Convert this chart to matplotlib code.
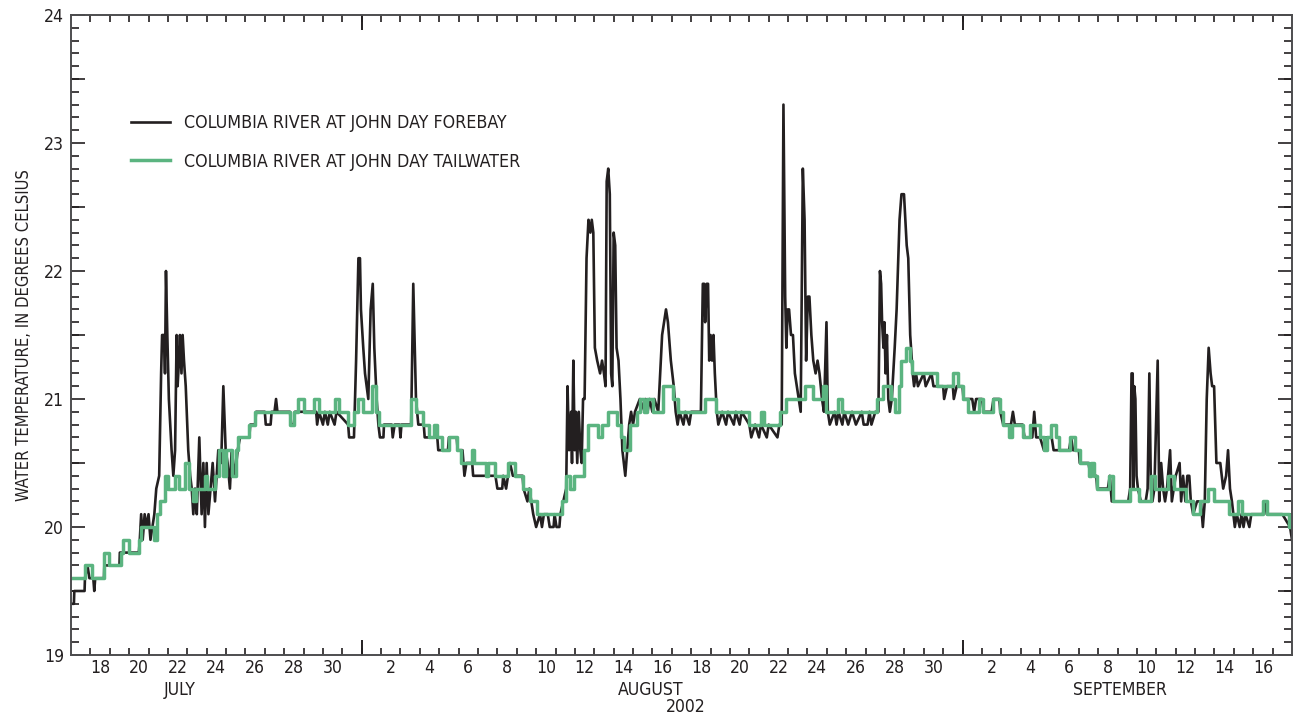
import matplotlib
matplotlib.use('Agg')
import matplotlib.pyplot as plt
import numpy as np

plt.rcParams['font.family'] = ['DejaVu Sans']
plt.rcParams['font.stretch'] = 'condensed'

# days since 2002-07-17 00:00, water temperature in deg C
fore_t = [0.0, 0.15, 0.17, 0.7, 0.72, 0.85, 0.95, 1.15, 1.2, 1.25, 1.7, 1.72, 2.5, 2.52, 3.5, 3.55,
          3.62, 3.7, 3.8, 3.9, 4.0, 4.1, 4.2, 4.3, 4.4,
          4.55, 4.65, 4.7, 4.8, 4.85, 4.9, 4.97, 5.05, 5.19, 5.28, 5.37, 5.45, 5.5, 5.57, 5.62, 5.7,
          5.76, 5.83, 5.92, 6.05, 6.15, 6.23, 6.31, 6.4, 6.49, 6.62, 6.74, 6.83, 6.91, 7.0, 7.09, 7.2,
          7.31, 7.43, 7.6, 7.75, 7.86, 7.98, 8.08, 8.2, 8.29, 8.46, 8.6, 8.72, 9.2, 9.25, 9.5, 9.55,
          10.0, 10.05, 10.3, 10.35, 10.5, 10.58, 10.65, 11.3, 11.35, 11.5, 11.55, 12.65, 12.7, 12.8,
          13.0, 13.1, 13.25, 13.35, 13.6, 13.7, 14.3, 14.35, 14.6,
          14.71, 14.83, 14.91, 14.96, 15.08, 15.17, 15.34, 15.46, 15.57, 15.65, 15.77, 15.86, 15.94,
          16.12, 16.15, 16.55, 16.6, 16.7, 16.95, 17.0, 17.05, 17.55, 17.66, 17.8, 17.92, 18.2, 18.25,
          18.9, 18.95, 19.45, 19.5, 19.9, 19.95, 20.2, 20.3, 20.4, 20.7, 20.75, 21.9, 22.0, 22.25,
          22.3, 22.45, 22.55, 22.65, 22.8, 23.3, 23.35, 23.55, 23.65, 23.75, 23.85, 24.0, 24.2, 24.3,
          24.4, 24.6, 24.7, 24.9, 24.95, 25.05, 25.2, 25.25, 25.4, 25.55,
          25.62, 25.7, 25.8, 25.85, 25.92, 25.99, 26.05, 26.12, 26.2, 26.28, 26.35, 26.42, 26.5,
          26.6, 26.7, 26.8, 26.87, 26.95, 27.03, 27.15, 27.3, 27.4, 27.5, 27.58, 27.64, 27.72, 27.8,
          27.87, 27.93, 28.0, 28.08, 28.15, 28.25, 28.35, 28.45, 28.6, 28.7, 28.8, 28.9,
          29.0, 29.1, 29.35, 29.6, 29.65, 29.75, 29.85, 30.0, 30.1, 30.3, 30.4, 30.5, 30.6, 30.7,
          30.8, 30.95, 31.1, 31.2, 31.3, 31.4, 31.6, 31.7, 31.9, 32.0, 32.5,
          32.6, 32.67, 32.72, 32.8, 32.87, 32.93, 33.0, 33.08, 33.15, 33.22, 33.32, 33.4, 33.6, 33.8,
          33.9, 34.2, 34.3, 34.5, 34.6, 35.0, 35.1, 35.3, 35.5, 35.6, 35.9, 36.0, 36.45, 36.55, 36.67,
          36.76, 36.85, 36.91, 36.98, 37.05, 37.15, 37.25, 37.35, 37.45, 37.55, 37.65, 37.76, 37.85,
          37.93, 38.02, 38.1, 38.2, 38.3, 38.42, 38.52, 38.62, 38.75, 38.85, 38.98, 39.05, 39.15,
          39.4, 39.5, 39.6, 39.8, 39.9, 40.1, 40.3, 40.5, 40.8, 40.9, 41.1, 41.2, 41.3, 41.5,
          41.66, 41.74, 41.8, 41.85, 41.92, 41.97, 42.03, 42.1, 42.17, 42.25, 42.35, 42.5, 42.6,
          42.75, 42.85, 42.98, 43.05, 43.12, 43.2, 43.3, 43.43, 43.5, 43.6,
          43.7, 44.0, 44.1, 44.4, 44.5, 45.0, 45.05, 45.2, 45.5, 45.55, 45.7, 46.0, 46.05, 46.5,
          46.6, 46.7, 47.0, 47.1, 47.5, 47.6, 47.9, 47.95, 48.1, 48.5, 48.6, 48.7, 49.1, 49.2, 49.6,
          49.7, 49.8, 50.0, 50.2, 50.3, 50.6, 50.7, 51.0, 51.5, 51.6, 51.7, 52.0, 52.05, 52.5, 52.6,
          52.9, 52.95, 53.5, 53.6, 53.7, 54.55,
          54.65, 54.72, 54.78, 54.82, 54.86, 54.92, 54.98, 55.05, 55.2, 55.45, 55.55, 55.64, 55.72,
          55.8, 55.9, 56.07, 56.15, 56.25, 56.35, 56.45, 56.55, 56.71, 56.8, 56.9, 57.0, 57.2, 57.28,
          57.38, 57.5, 57.6, 57.7, 57.78, 57.9, 58.1, 58.3, 58.4, 58.5, 58.6, 58.7, 58.8, 58.88,
          58.98, 59.1, 59.3, 59.45, 59.6, 59.7, 59.8, 59.9, 60.05, 60.15, 60.3, 60.4, 60.5, 60.6,
          60.8, 60.9, 61.5, 61.6, 61.7, 62.5, 62.9, 63.0]
fore_v = [19.4, 19.4, 19.5, 19.5, 19.6, 19.7, 19.6, 19.6, 19.5, 19.6, 19.6, 19.7, 19.7, 19.8, 19.8, 19.9,
          20.1, 19.9, 20.1, 20.0, 20.1, 19.9, 20.0, 20.1, 20.3,
          20.4, 21.2, 21.5, 21.5, 21.2, 22.0, 21.5, 21.0, 20.6, 20.4, 20.6, 21.5, 21.1, 21.3, 21.5, 21.2,
          21.5, 21.3, 21.1, 20.6, 20.4, 20.3, 20.1, 20.3, 20.1, 20.7, 20.1, 20.5, 20.0, 20.5, 20.1, 20.3,
          20.5, 20.2, 20.6, 20.5, 21.1, 20.6, 20.5, 20.3, 20.6, 20.4, 20.6, 20.7, 20.7, 20.8, 20.8, 20.9,
          20.9, 20.8, 20.8, 20.9, 20.9, 21.0, 20.9, 20.9, 20.8, 20.8, 20.9, 20.9, 20.8, 20.9,
          20.8, 20.9, 20.8, 20.9, 20.8, 20.9, 20.8, 20.7, 20.7,
          21.3, 22.1, 22.1, 21.7, 21.4, 21.2, 21.0, 21.7, 21.9, 21.4, 21.0, 20.8, 20.7,
          20.7, 20.8, 20.8, 20.7, 20.8, 20.8, 20.7, 20.8, 20.8, 21.9, 21.0, 20.8, 20.8, 20.7,
          20.7, 20.6, 20.6, 20.7, 20.7, 20.6, 20.6, 20.4, 20.5, 20.5, 20.4, 20.4, 20.3, 20.3,
          20.4, 20.3, 20.4, 20.5, 20.4, 20.4, 20.3, 20.2, 20.3, 20.2, 20.1, 20.0, 20.1, 20.0,
          20.1, 20.1, 20.0, 20.0, 20.1, 20.0, 20.0, 20.1, 20.2, 20.3,
          21.1, 20.6, 20.9, 20.5, 21.3, 20.6, 20.9, 20.5, 20.9, 20.6, 20.5, 21.0, 21.0,
          22.1, 22.4, 22.3, 22.4, 22.3, 21.4, 21.3, 21.2, 21.3, 21.2, 21.1, 22.7, 22.8, 22.6,
          21.2, 21.1, 22.3, 22.2, 21.4, 21.3, 21.0, 20.6, 20.4, 20.6, 20.8, 20.9,
          20.8, 20.9, 21.0, 20.9, 21.0, 20.9, 21.0, 20.9, 21.0, 20.9, 21.2, 21.5, 21.6, 21.7,
          21.6, 21.3, 21.1, 20.9, 20.8, 20.9, 20.8, 20.9, 20.8, 20.9, 20.9,
          21.9, 21.9, 21.6, 21.9, 21.9, 21.3, 21.5, 21.3, 21.5, 21.2, 20.9, 20.8, 20.9, 20.8,
          20.9, 20.8, 20.9, 20.8, 20.9, 20.8, 20.7, 20.8, 20.7, 20.8, 20.7, 20.8, 20.7, 20.8, 20.8,
          23.3, 21.8, 21.4, 21.7, 21.7, 21.5, 21.5, 21.2, 21.1, 21.0, 20.9, 22.8, 22.4,
          21.3, 21.8, 21.8, 21.5, 21.3, 21.2, 21.3, 21.2, 21.0, 20.9, 21.6, 20.9, 20.8,
          20.9, 20.8, 20.9, 20.8, 20.9, 20.8, 20.9, 20.8, 20.9, 20.8, 20.8, 20.9, 20.8, 20.9,
          20.9, 22.0, 21.9, 21.6, 21.4, 21.6, 21.2, 21.5, 21.0, 20.9, 21.0, 21.4, 21.7,
          22.4, 22.6, 22.6, 22.4, 22.2, 22.1, 21.5, 21.2, 21.1, 21.2,
          21.1, 21.2, 21.1, 21.2, 21.1, 21.1, 21.0, 21.1, 21.1, 21.0, 21.1, 21.1, 21.0, 21.0,
          20.9, 21.0, 21.0, 20.9, 20.9, 21.0, 21.0, 20.9, 20.8, 20.8, 20.9, 20.8, 20.8, 20.7, 20.7,
          20.9, 20.7, 20.7, 20.6, 20.7, 20.7, 20.6, 20.6, 20.6, 20.7, 20.6, 20.6, 20.5, 20.5, 20.4,
          20.4, 20.3, 20.3, 20.4, 20.2, 20.2,
          20.3, 21.2, 21.2, 20.3, 21.1, 21.0, 20.4, 20.3, 20.2, 20.2, 20.3, 21.2, 20.3,
          20.2, 20.3, 21.3, 20.2, 20.5, 20.3, 20.2, 20.3, 20.6, 20.2, 20.3, 20.4, 20.5, 20.2,
          20.4, 20.2, 20.4, 20.4, 20.2, 20.1, 20.2, 20.2, 20.0, 20.2, 21.0, 21.4, 21.2, 21.1,
          21.1, 20.5, 20.5, 20.3, 20.4, 20.6, 20.3, 20.2, 20.0, 20.1, 20.0, 20.1, 20.0, 20.1,
          20.0, 20.1, 20.1, 20.2, 20.1, 20.1, 20.0, 19.9]

# tailwater: times at which the recorded value changes (step series)
tail_t = [0.0, 0.7, 1.1, 1.7, 1.95, 2.6, 2.7, 3.0, 3.5, 3.6, 4.3, 4.45, 4.6, 4.85, 5.0, 5.35, 5.55,
          5.9, 6.1, 6.3, 6.45, 6.9, 7.0, 7.45, 7.65, 7.85, 8.0, 8.3, 8.5, 8.6, 9.2, 9.5, 11.3, 11.5,
          11.7, 12.0, 12.55, 12.8, 13.6, 13.85, 14.3, 14.6, 14.8, 15.05, 15.55, 15.75, 15.9, 17.55,
          17.8, 18.15, 18.45, 18.75, 18.9, 19.15, 19.5, 19.9, 20.1, 20.7, 20.8, 21.4, 21.5, 21.9,
          22.55, 22.9, 23.3, 23.7, 24.05, 25.35, 25.55, 25.75, 25.95, 26.45, 26.65, 27.2, 27.4,
          27.7, 28.15, 28.4, 28.55, 28.85, 29.2, 29.35, 29.55, 29.7, 30.05, 30.55, 31.05, 31.3,
          32.7, 33.3, 35.0, 35.6, 35.75, 36.6, 36.9, 37.85, 38.3, 38.8, 38.95, 39.55, 39.8, 41.6,
          41.9, 42.3, 42.5, 42.7, 42.8, 43.1, 43.3, 43.4, 44.7, 45.5, 45.75, 46.0, 46.3, 46.85,
          47.05, 47.55, 47.95, 48.1, 48.4, 48.55, 49.1, 49.5, 50.0, 50.2, 50.35, 50.55, 50.8, 51.0,
          51.55, 51.8, 52.05, 52.55, 52.65, 52.8, 52.95, 53.55, 53.75, 54.65, 55.1, 55.7, 55.95,
          56.6, 56.9, 57.55, 57.9, 58.25, 58.65, 58.95, 59.75, 60.2, 60.4, 61.5, 61.7, 62.85, 63.0]
tail_v = [19.6, 19.7, 19.6, 19.8, 19.7, 19.8, 19.9, 19.8, 19.9, 20.0, 19.9, 20.1, 20.2, 20.4, 20.3,
          20.4, 20.3, 20.5, 20.3, 20.2, 20.3, 20.4, 20.3, 20.4, 20.6, 20.4, 20.6, 20.4, 20.6, 20.7,
          20.8, 20.9, 20.8, 20.9, 21.0, 20.9, 21.0, 20.9, 21.0, 20.9, 20.8, 20.9, 21.0, 20.9, 21.1,
          20.9, 20.8, 21.0, 20.9, 20.8, 20.7, 20.8, 20.7, 20.6, 20.7, 20.6, 20.5, 20.6, 20.5, 20.4,
          20.5, 20.4, 20.5, 20.4, 20.3, 20.2, 20.1, 20.2, 20.4, 20.3, 20.4, 20.6, 20.8, 20.7, 20.8,
          20.9, 20.8, 20.7, 20.6, 20.8, 20.9, 21.0, 20.9, 21.0, 20.9, 21.1, 21.0, 20.9, 21.0, 20.9,
          20.8, 20.9, 20.8, 20.9, 21.0, 21.1, 21.0, 21.1, 20.9, 21.0, 20.9, 21.0, 21.1, 21.0, 20.9,
          21.1, 21.3, 21.4, 21.3, 21.2, 21.1, 21.2, 21.1, 21.0, 20.9, 21.0, 20.9, 21.0, 20.9, 20.8,
          20.7, 20.8, 20.7, 20.8, 20.7, 20.6, 20.7, 20.8, 20.7, 20.6, 20.7, 20.6, 20.5, 20.4, 20.5,
          20.4, 20.3, 20.4, 20.2, 20.3, 20.2, 20.4, 20.3, 20.4, 20.3, 20.2, 20.1, 20.2, 20.3, 20.2,
          20.1, 20.2, 20.1, 20.2, 20.1, 20.0, 20.0]

# tick labels: even days, centred on the day
day_labels = (['18', '20', '22', '24', '26', '28', '30'] +
              [str(d) for d in range(2, 31, 2)] +
              [str(d) for d in range(2, 17, 2)])
label_days = ([d - 17 for d in range(18, 31, 2)] +
              [15 + d - 1 for d in range(2, 31, 2)] +
              [46 + d - 1 for d in range(2, 17, 2)])
month_starts = [15, 46]

black = '#231f20'
green = '#5bb480'
fs = 12.6

fig = plt.figure(figsize=(12.96, 7.14), dpi=100)
ax = fig.add_axes([71 / 1296, 59 / 714, 1221 / 1296, 640 / 714])

ax.plot(fore_t, fore_v, color=black, lw=1.9, label='COLUMBIA RIVER AT JOHN DAY FOREBAY')
ax.plot(tail_t, tail_v, color=green, lw=2.5, drawstyle='steps-post',
        label='COLUMBIA RIVER AT JOHN DAY TAILWATER')

ax.set_xlim(0, 63)
ax.set_ylim(19, 24)

# x axis: short tick every day, labels at noon of even days
ax.set_xticks([d + 0.5 for d in label_days])
ax.set_xticklabels(day_labels, fontsize=fs, color=black)
ax.set_xticks(np.arange(1, 63), minor=True)
ax.tick_params(axis='x', which='major', length=0, pad=3)
ax.tick_params(axis='x', which='minor', direction='in', length=5, width=1.2, color=black,
               top=True, bottom=True)
for loc in ['bottom', 'top']:
    sec = ax.secondary_xaxis(loc)
    sec.set_xticks(month_starts)
    sec.set_xticklabels([])
    sec.tick_params(direction='in', length=11, width=1.4, color=black)
    sec.spines[loc].set_visible(False)

# y axis
ax.set_yticks([19, 20, 21, 22, 23, 24])
ax.set_yticklabels(['19', '20', '21', '22', '23', '24'], fontsize=fs, color=black)
ax.set_yticks(np.arange(19, 24.01, 0.1), minor=True)
ax.tick_params(axis='y', which='major', direction='in', length=10, width=1.2, color=black,
               left=True, right=True, pad=5)
ax.tick_params(axis='y', which='minor', direction='in', length=6, width=1.2, color=black,
               left=True, right=True)
for loc in ['left', 'right']:
    sec = ax.secondary_yaxis(loc)
    sec.set_yticks([19.5, 20.5, 21.5, 22.5, 23.5])
    sec.set_yticklabels([])
    sec.tick_params(direction='in', length=10, width=1.2, color=black)
    sec.spines[loc].set_visible(False)

for s in ax.spines.values():
    s.set_color('#4d4d4f')
    s.set_linewidth(1.4)

ax.set_ylabel('WATER TEMPERATURE, IN DEGREES CELSIUS', fontsize=11.9, color=black, labelpad=8)

# month / year labels
tr = ax.get_xaxis_transform()
ax.text(5.6, -0.055, 'JULY', transform=tr, ha='center', va='center', fontsize=fs, color=black)
ax.text(29.9, -0.055, 'AUGUST', transform=tr, ha='center', va='center', fontsize=fs, color=black)
ax.text(54.1, -0.055, 'SEPTEMBER', transform=tr, ha='center', va='center', fontsize=fs, color=black)
ax.text(31.7, -0.081, '2002', transform=tr, ha='center', va='center', fontsize=fs, color=black)

leg = ax.legend(loc='upper left', bbox_to_anchor=(0.036, 0.87), frameon=False, fontsize=12.8,
                handlelength=2.2, handletextpad=0.8, labelspacing=1.15)
for t in leg.get_texts():
    t.set_color(black)

fig.savefig('out.png', dpi=100)
